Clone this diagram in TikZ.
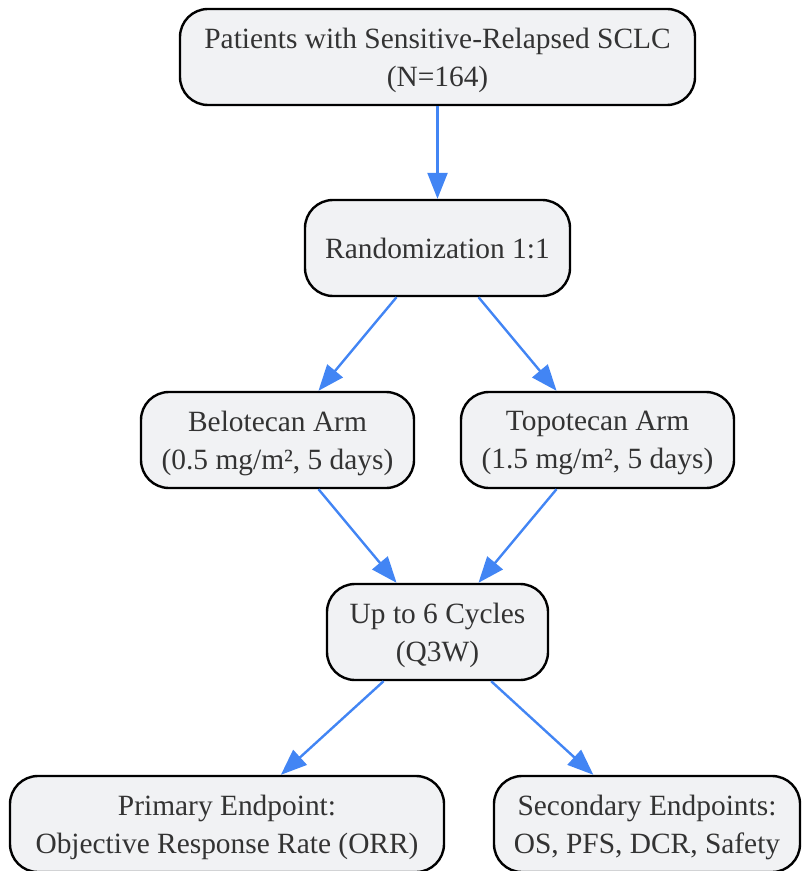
\documentclass[tikz,border=0pt]{standalone}
\usepackage{fontspec}
\setmainfont{Liberation Serif}
\usepackage{xcolor}
\usetikzlibrary{positioning}
\usetikzlibrary{arrows.meta}
\definecolor{boxfill}{HTML}{F1F2F4}
\definecolor{boxtext}{HTML}{333333}
\definecolor{flowblue}{HTML}{4285F4}

\begin{document}
\begin{tikzpicture}[x=0.5pt,y=-0.5pt]
	\tikzset{>={Triangle[length=13pt,width=10pt]}}
	\tikzset{box/.style={draw=black,line width=1.2pt,fill=boxfill,rounded corners=14pt,
		align=center,text=boxtext,minimum height=48pt,inner sep=0pt,text depth=0pt,
		font=\fontsize{14.7}{19}\selectfont}}
	\tikzset{arrow/.style={->,draw=flowblue,fill=flowblue,line width=1.2pt}}
	\useasboundingbox (0,0) rectangle (803,871);
	
	\node[box,minimum width=257.5pt] (patients) at (437.5,57) {Patients with Sensitive-Relapsed SCLC\\(N=164)};
	\node[box,minimum width=132.5pt] (rand) at (437.5,248) {Randomization 1:1};
	
	\node[box,minimum width=136.5pt] (belo) at (277.5,440) {Belotecan Arm\\(0.5 mg/m², 5 days)};
	\node[box,minimum width=136.5pt] (topo) at (597.5,440) {Topotecan Arm\\(1.5 mg/m², 5 days)};
	
	\node[box,minimum width=110.5pt] (cycles) at (437.5,632) {Up to 6 Cycles\\(Q3W)};
	
	\node[box,minimum width=217pt] (primary) at (227,824) {Primary Endpoint:\\Objective Response Rate (ORR)};
	\node[box,minimum width=153pt] (secondary) at (647,824) {Secondary Endpoints:\\OS, PFS, DCR, Safety};
	
	\draw[arrow] (patients) -- (rand);
	\draw[arrow] (rand) -- (belo);
	\draw[arrow] (rand) -- (topo);
	\draw[arrow] (belo) -- (cycles);
	\draw[arrow] (topo) -- (cycles);
	\draw[arrow] (cycles) -- (primary);
	\draw[arrow] (cycles) -- (secondary);
	
\end{tikzpicture}
\end{document}
